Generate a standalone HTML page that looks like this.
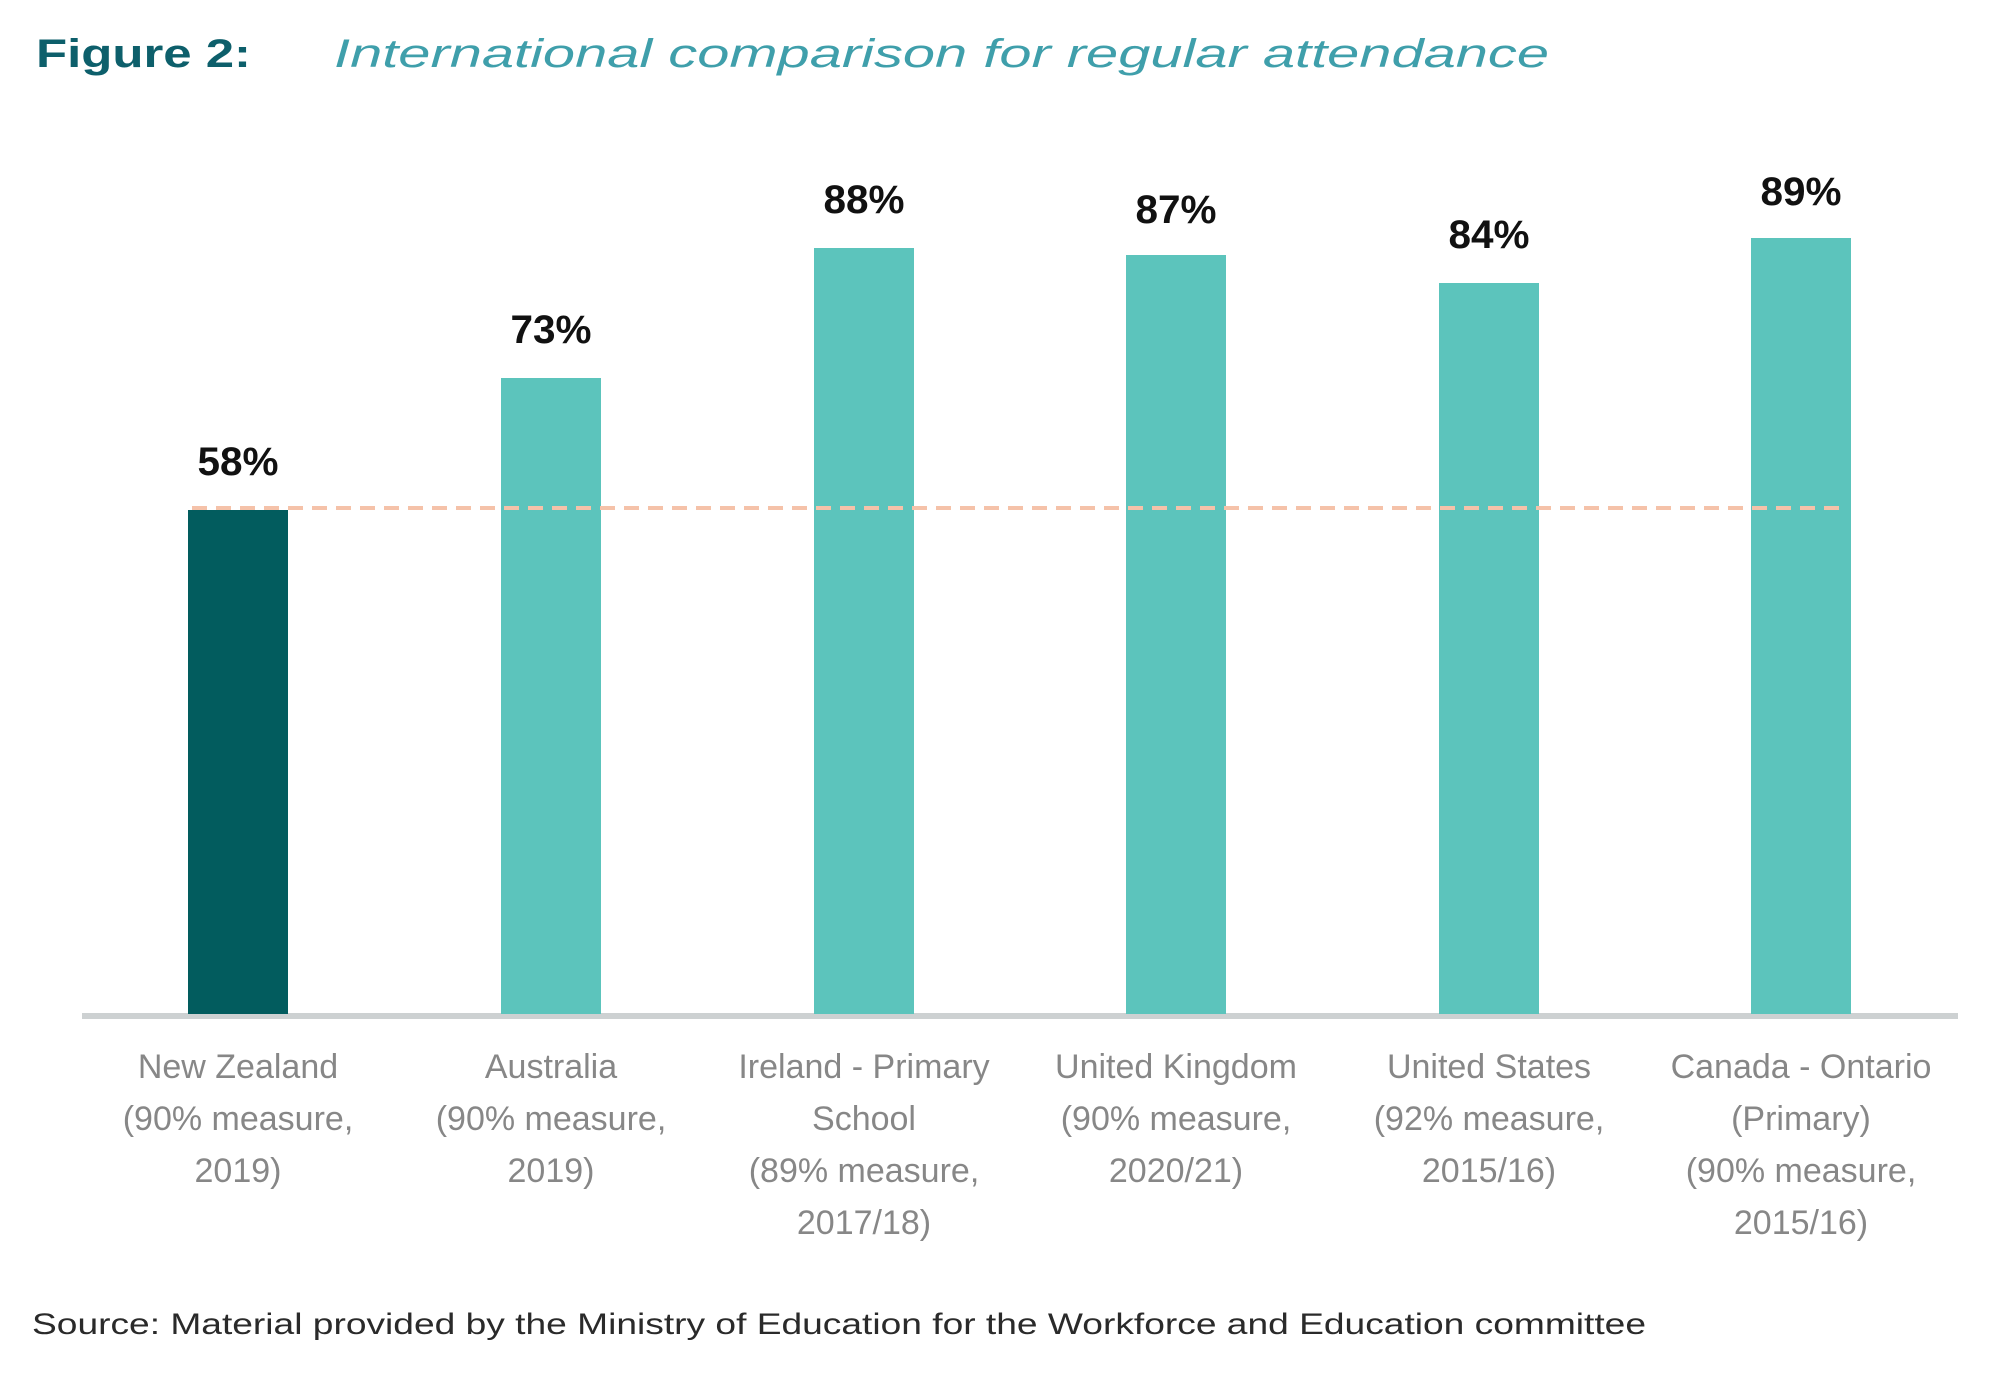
<!DOCTYPE html>
<html><head><meta charset="utf-8"><style>
html,body{margin:0;padding:0;background:#fff;width:2000px;height:1395px;overflow:hidden}
svg text{font-family:"Liberation Sans",sans-serif}
</style></head><body>
<svg width="2000" height="1395" viewBox="0 0 2000 1395" xmlns="http://www.w3.org/2000/svg">
<text x="36" y="67" font-size="40" font-weight="bold" fill="#0d5f6b" textLength="215" lengthAdjust="spacingAndGlyphs">Figure 2:</text>
<text x="334" y="67" font-size="40" font-style="italic" fill="#3f9fab" textLength="1215" lengthAdjust="spacingAndGlyphs">International comparison for regular attendance</text>

<rect x="82" y="1013" width="1876" height="6" fill="#cdd1d2"/>
<rect x="188" y="510" width="100" height="504" fill="#025c5e"/>
<rect x="501" y="378" width="100" height="636" fill="#5cc4bc"/>
<rect x="814" y="248" width="100" height="766" fill="#5cc4bc"/>
<rect x="1126" y="255" width="100" height="759" fill="#5cc4bc"/>
<rect x="1439" y="283" width="100" height="731" fill="#5cc4bc"/>
<rect x="1751" y="238" width="100" height="776" fill="#5cc4bc"/>
<line x1="192" y1="508" x2="1846" y2="508" stroke="#f5c2a9" stroke-width="4" stroke-dasharray="15,9"/>

<g font-size="40" font-weight="bold" fill="#111" text-anchor="middle">
<text x="238" y="475" textLength="81" lengthAdjust="spacingAndGlyphs">58%</text>
<text x="551" y="343" textLength="81" lengthAdjust="spacingAndGlyphs">73%</text>
<text x="864" y="213" textLength="81" lengthAdjust="spacingAndGlyphs">88%</text>
<text x="1176" y="223" textLength="81" lengthAdjust="spacingAndGlyphs">87%</text>
<text x="1489" y="248" textLength="81" lengthAdjust="spacingAndGlyphs">84%</text>
<text x="1801" y="205" textLength="81" lengthAdjust="spacingAndGlyphs">89%</text>
</g>

<g font-size="34" fill="#878787" text-anchor="middle">
<text x="238" y="1078">New Zealand</text>
<text x="238" y="1130">(90% measure,</text>
<text x="238" y="1182">2019)</text>
<text x="551" y="1078">Australia</text>
<text x="551" y="1130">(90% measure,</text>
<text x="551" y="1182">2019)</text>
<text x="864" y="1078">Ireland - Primary</text>
<text x="864" y="1130">School</text>
<text x="864" y="1182">(89% measure,</text>
<text x="864" y="1234">2017/18)</text>
<text x="1176" y="1078">United Kingdom</text>
<text x="1176" y="1130">(90% measure,</text>
<text x="1176" y="1182">2020/21)</text>
<text x="1489" y="1078">United States</text>
<text x="1489" y="1130">(92% measure,</text>
<text x="1489" y="1182">2015/16)</text>
<text x="1801" y="1078">Canada - Ontario</text>
<text x="1801" y="1130">(Primary)</text>
<text x="1801" y="1182">(90% measure,</text>
<text x="1801" y="1234">2015/16)</text>
</g>

<text x="32" y="1334" font-size="30" fill="#2a2a2a" textLength="1614" lengthAdjust="spacingAndGlyphs">Source: Material provided by the Ministry of Education for the Workforce and Education committee</text>
</svg>
</body></html>
